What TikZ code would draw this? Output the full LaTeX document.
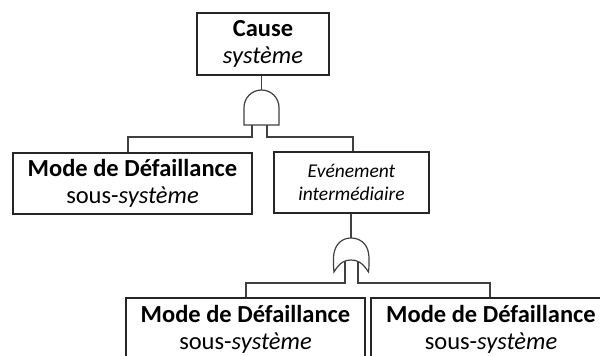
\documentclass[tikz,border=0pt]{standalone}
\usepackage{fontspec}
\setmainfont{Carlito}
\definecolor{lineg}{HTML}{404040}
\definecolor{boxg}{HTML}{262626}
\begin{document}
\begin{tikzpicture}[x=1pt,y=-1pt,
  box/.style={draw=boxg,line width=1.2pt,fill=white,inner sep=0pt,align=center,
    font=\fontsize{24.5}{27}\selectfont},
  wire/.style={draw=lineg,line width=1.2pt},
  gate/.style={draw=lineg,line width=1.2pt,fill=white}]
\useasboundingbox (0,0) rectangle (600,356);
% boxes
\node[box,minimum width=132,minimum height=62] (top) at (263,44)
  {\textbf{Cause}\\\textit{système}};
\node[box,minimum width=239,minimum height=61] (left) at (132.5,183.5)
  {\textbf{Mode de Défaillance}\\sous-\textit{système}};
\node[box,minimum width=155,minimum height=61,font=\fontsize{19.5}{23}\selectfont] (mid) at (351.5,182.5)
  {\textit{Evénement}\\\textit{intermédiaire}};
\node[box,minimum width=239,minimum height=62] (bl) at (245.5,329)
  {\textbf{Mode de Défaillance}\\sous-\textit{système}};
\node[box,minimum width=240,minimum height=62] (br) at (491,329)
  {\textbf{Mode de Défaillance}\\sous-\textit{système}};
% gate coordinates
\coordinate (andtop) at (261.5,90);
\coordinate (andL) at (252,125);
\coordinate (andR) at (267,125);
\coordinate (ortop) at (351,238);
\coordinate (orL) at (345,258);
\coordinate (orR) at (358,258);
\coordinate (busA) at (0,137);
\coordinate (busB) at (0,283);
% wires
\draw[wire] (top.south -| andtop) -- (andtop);
\draw[wire] (andL) -- (andL |- busA) -| (left.north -| 128,0);
\draw[wire] (andR) -- (andR |- busA) -| (mid.north -| 353,0);
\draw[wire] (mid.south -| ortop) -- (ortop);
\draw[wire] (orL) -- (orL |- busB) -| (bl.north -| 246,0);
\draw[wire] (orR) -- (orR |- busB) -| (br.north -| 490,0);
% AND gate
\draw[gate] (244,125) -- (244,107.5) arc[start angle=180,end angle=360,radius=17.5] -- (279,125) -- cycle;
% OR gate
\draw[gate] (334,272) .. controls (333,262) and (333.5,256) .. (334,253)
  .. controls (336,243) and (343,238) .. (351,238)
  .. controls (359,238) and (367,243) .. (368.5,253)
  .. controls (369,256) and (369.5,262) .. (368.5,272)
  .. controls (362,262) and (357,260) .. (351,260)
  .. controls (345,260) and (340,262) .. cycle;
\end{tikzpicture}
\end{document}
